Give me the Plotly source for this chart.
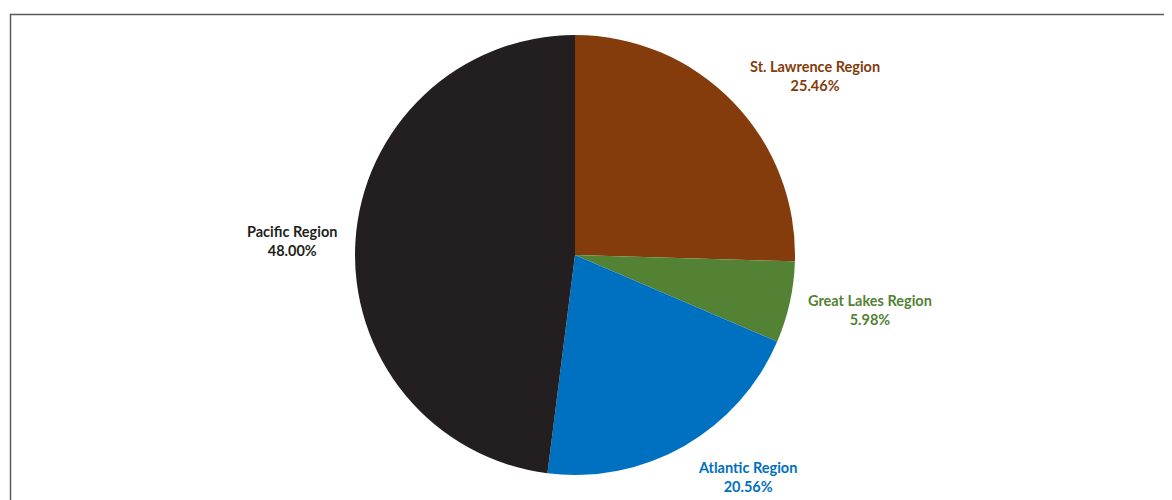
import plotly.graph_objects as go

regions = ["St. Lawrence Region", "Great Lakes Region", "Atlantic Region", "Pacific Region"]
shares = [25.46, 5.98, 20.56, 48.00]
colors = ["#843C0C", "#548235", "#0070C0", "#231F20"]

W, H = 1172, 500
OFF = 8  # page body margin
cx, cy, r = 575 - OFF, 255 - OFF, 220

fig = go.Figure(go.Pie(
    labels=regions,
    values=shares,
    sort=False,
    direction="clockwise",
    rotation=0,
    marker=dict(colors=colors, line=dict(width=0)),
    textinfo="none",
    hoverinfo="none",
    showlegend=False,
    domain=dict(x=[(cx - r) / W, (cx + r) / W], y=[(H - cy - r) / H, (H - cy + r) / H]),
))

# label centres (pixels in page)
label_pos = [(815, 76), (870, 310), (747, 477), (292, 241)]
for name, val, col, (lx, ly) in zip(regions, shares, colors, label_pos):
    fig.add_annotation(
        x=(lx - OFF) / W, y=1 - (ly - OFF) / H, xref="paper", yref="paper",
        xanchor="center", yanchor="middle",
        text=f"<b>{name}<br>{val:.2f}%</b>",
        showarrow=False, align="center",
        font=dict(family="Lato", size=14.5, color=col),
    )

fig.add_shape(type="rect", xref="paper", yref="paper",
              x0=(10.5 - OFF) / W, x1=1.05, y0=-0.05, y1=1 - (14.5 - OFF) / H,
              line=dict(color="#595959", width=1.5))

fig.update_layout(width=W, height=H, margin=dict(l=0, r=0, t=0, b=0),
                  paper_bgcolor="white", plot_bgcolor="white")

fig.write_html("out.html")
